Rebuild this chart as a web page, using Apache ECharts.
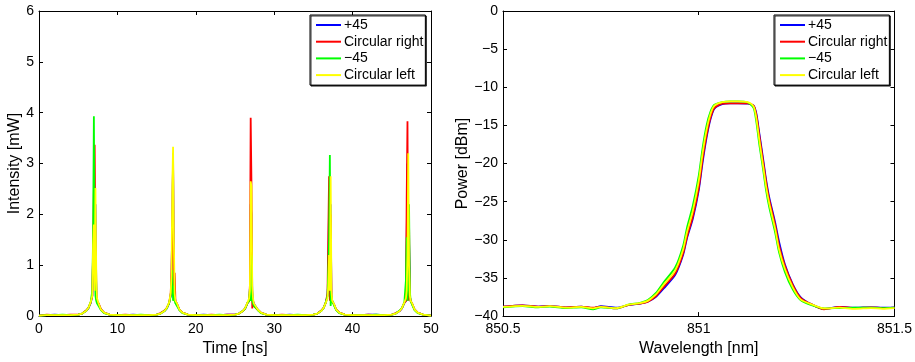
<!DOCTYPE html>
<html>
<head>
<meta charset="utf-8">
<script src="https://cdn.jsdelivr.net/npm/echarts@6/dist/echarts.min.js"></script>
<style>
html,body{margin:0;padding:0;background:#fff;}
#chart{width:915px;height:362px;}
</style>
</head>
<body>
<div id="chart"></div>
<script>
// ---------- Left panel: intensity vs time ----------
const seriesNames = ['+45', 'Circular right', '\u221245', 'Circular left'];
const seriesColors = ['#0000ff', '#ff0000', '#00ff00', '#ffff00'];

const timeNs = [
  0,1,2,3,4,5,5.5,6,6.3,6.6,6.8,6.9,7.0,7.1,7.2,7.3,7.4,7.6,7.9,8.3,9,
  10,11,12,13,14,15,15.5,16,16.3,16.6,16.8,16.9,17.0,17.1,17.2,17.3,17.4,17.6,17.9,18.3,19,
  20,21,22,23,24,25,25.5,26,26.3,26.6,26.8,26.9,27.0,27.1,27.2,27.3,27.4,27.6,27.9,28.3,29,
  30,31,32,33,34,35,35.5,36,36.3,36.6,36.8,36.9,37.0,37.1,37.2,37.3,37.4,37.6,37.9,38.3,39,
  40,41,42,43,44,45,45.5,46,46.3,46.6,46.8,46.9,47.0,47.1,47.2,47.3,47.4,47.6,47.9,48.3,49,
  50
];

const intensityPlus45 = [
  0.01,0.02,0.03,0.02,0.02,0.03,0.05,0.10,0.15,0.26, 0.40,1.20,1.70,1.00,2.20,0.70,0.30, 0.24,0.13,0.07,0.03,
  0.02,0.02,0.03,0.02,0.02,0.03,0.05,0.10,0.15,0.25, 0.40,0.60,2.00,3.00,1.00,0.40,0.30, 0.24,0.13,0.07,0.03,
  0.02,0.03,0.02,0.02,0.03,0.03,0.05,0.10,0.15,0.26, 0.30,0.45,2.20,2.00,0.50,0.30,0.25, 0.22,0.13,0.07,0.03,
  0.02,0.02,0.03,0.02,0.02,0.03,0.05,0.10,0.16,0.27, 0.40,0.70,2.30,0.40,2.20,0.40,0.30, 0.24,0.13,0.07,0.03,
  0.02,0.02,0.03,0.03,0.02,0.03,0.05,0.10,0.15,0.26, 0.30,1.50,3.00,0.40,1.50,0.40,0.30, 0.24,0.13,0.07,0.03,
  0.01
];
const intensityCircRight = [
  0.01,0.03,0.02,0.02,0.03,0.03,0.05,0.11,0.16,0.27, 0.40,1.30,2.50,3.37,1.20,0.40,0.30, 0.25,0.14,0.07,0.03,
  0.02,0.03,0.02,0.02,0.02,0.03,0.06,0.11,0.16,0.26, 0.45,0.90,1.60,3.20,0.50,0.85,0.30, 0.24,0.13,0.07,0.03,
  0.02,0.02,0.03,0.02,0.03,0.03,0.05,0.10,0.15,0.26, 0.30,0.60,3.90,2.60,0.15,0.30,0.20, 0.20,0.12,0.07,0.03,
  0.02,0.03,0.02,0.02,0.02,0.03,0.05,0.11,0.16,0.28, 0.45,1.55,2.75,0.30,2.00,0.40,0.30, 0.24,0.13,0.07,0.03,
  0.02,0.02,0.03,0.02,0.02,0.03,0.06,0.10,0.16,0.26, 0.30,2.30,3.83,0.30,1.85,0.40,0.30, 0.24,0.13,0.07,0.03,
  0.01
];
const intensityMinus45 = [
  0.01,0.02,0.02,0.03,0.02,0.03,0.05,0.10,0.16,0.28, 0.50,1.60,3.93,1.10,0.40,0.30,0.25, 0.22,0.12,0.06,0.03,
  0.02,0.02,0.02,0.03,0.02,0.03,0.05,0.10,0.15,0.26, 0.40,0.40,0.90,0.30,0.60,0.30,0.25, 0.22,0.12,0.06,0.03,
  0.02,0.02,0.02,0.03,0.02,0.03,0.05,0.10,0.15,0.26, 0.30,0.55,0.30,1.20,0.30,0.25,0.20, 0.20,0.12,0.06,0.03,
  0.02,0.02,0.02,0.03,0.02,0.03,0.05,0.10,0.16,0.28, 0.40,0.90,1.50,3.17,0.20,0.40,0.30, 0.22,0.12,0.06,0.03,
  0.02,0.02,0.02,0.03,0.02,0.03,0.05,0.11,0.16,0.27, 0.70,1.55,0.30,0.60,2.20,0.50,0.30, 0.22,0.12,0.06,0.03,
  0.01
];
const intensityCircLeft = [
  0.01,0.02,0.02,0.02,0.02,0.03,0.05,0.10,0.16,0.28, 0.40,1.40,1.80,0.50,2.52,0.90,0.35, 0.25,0.13,0.07,0.03,
  0.02,0.02,0.02,0.02,0.02,0.03,0.05,0.10,0.16,0.27, 0.45,0.80,2.50,3.33,1.50,0.45,0.30, 0.25,0.13,0.07,0.03,
  0.02,0.02,0.02,0.02,0.02,0.03,0.05,0.10,0.16,0.27, 0.35,0.50,2.65,2.55,0.60,0.35,0.25, 0.23,0.13,0.07,0.03,
  0.02,0.02,0.02,0.02,0.02,0.03,0.05,0.10,0.16,0.27, 0.35,0.60,1.20,0.50,2.75,0.50,0.30, 0.25,0.13,0.07,0.03,
  0.02,0.02,0.02,0.02,0.02,0.03,0.05,0.10,0.16,0.27, 0.35,0.50,1.20,3.20,1.00,0.40,0.30, 0.25,0.13,0.07,0.03,
  0.01
];

// ---------- Right panel: power vs wavelength ----------
const wavelengthNm = [
  850.5,850.55,850.59,850.62,850.66,850.70,850.73,850.75,850.79,850.82,850.85,850.87,850.89,850.91,850.94,
  850.96,850.97,850.985,851.0,851.01,851.02,851.03,851.04,851.06,851.08,851.10,851.125,851.14,851.147,851.155,
  851.165,851.172,851.18,851.195,851.205,851.22,851.24,851.26,851.29,851.32,851.36,851.40,851.44,851.47,851.5
];
const powerPlus45 = [
  -38.75,-38.6,-38.75,-38.65,-38.85,-38.75,-38.95,-38.7,-38.9,-38.55,-38.35,-38.1,-37.5,-36.4,-34.6,
  -32.0,-29.8,-27.2,-23.5,-19.8,-16.6,-14.2,-12.8,-12.2,-12.1,-12.1,-12.15,-12.4,-13.4,-16.1,
  -19.6,-22.1,-24.4,-27.7,-30.2,-33.2,-35.8,-37.5,-38.5,-39.05,-38.8,-38.9,-38.85,-38.9,-38.85
];
const powerCircRight = [
  -38.75,-38.6,-38.75,-38.7,-38.85,-38.75,-38.9,-38.75,-39.0,-38.55,-38.35,-38.1,-37.4,-36.2,-34.4,
  -31.8,-29.6,-26.9,-23.2,-19.4,-16.3,-14.0,-12.7,-12.15,-12.1,-12.1,-12.1,-12.4,-13.6,-16.4,
  -19.9,-22.4,-24.7,-28.0,-30.7,-33.4,-35.9,-37.6,-38.5,-39.1,-38.8,-38.95,-38.85,-38.95,-38.9
];
const powerMinus45 = [
  -38.85,-38.7,-38.85,-38.75,-38.95,-38.85,-39.1,-38.85,-39.0,-38.5,-38.25,-37.9,-37.0,-35.6,-33.6,
  -30.8,-28.4,-25.5,-21.6,-17.9,-15.0,-13.2,-12.3,-11.95,-11.85,-11.85,-12.0,-12.7,-14.5,-17.6,
  -21.0,-23.5,-25.7,-29.0,-31.6,-34.2,-36.5,-37.9,-38.6,-39.0,-38.95,-38.9,-38.9,-38.95,-38.9
];
const powerCircLeft = [
  -38.8,-38.65,-38.8,-38.7,-38.9,-38.8,-39.0,-38.8,-38.95,-38.5,-38.3,-38.0,-37.2,-35.9,-34.0,
  -31.3,-29.0,-26.2,-22.3,-18.6,-15.6,-13.5,-12.4,-11.95,-11.85,-11.85,-11.95,-12.5,-14.0,-17.0,
  -20.5,-23.0,-25.2,-28.5,-31.2,-33.8,-36.2,-37.8,-38.5,-39.0,-38.9,-39.05,-38.95,-39.05,-38.95
];

// ---------- build ----------
const FONT = "'Liberation Sans', Arial, Helvetica, sans-serif";
const minusFmt = v => (v < 0 ? '\u2212' + (-v) : String(v));

function pairs(xs, ys) { return xs.map((x, i) => [x, ys[i]]); }

function xAx(grid, min, max, interval, pos, name) {
  const show = pos === 'bottom';
  return {
    gridIndex: grid, type: 'value', min, max, interval, position: pos,
    axisLine: { show: true, onZero: false, lineStyle: { color: '#000', width: 1 } },
    axisTick: { show: true, inside: true, length: 4, lineStyle: { color: '#000' } },
    axisLabel: { show: show, color: '#000', fontSize: 14, fontFamily: FONT, margin: 6, formatter: minusFmt },
    splitLine: { show: false },
    name: show ? name : '', nameLocation: 'middle', nameGap: 19,
    nameTextStyle: { color: '#000', fontSize: 16, fontFamily: FONT }
  };
}
function yAx(grid, min, max, interval, pos, name, gap) {
  const show = pos === 'left';
  return {
    gridIndex: grid, type: 'value', min, max, interval, position: pos,
    axisLine: { show: true, onZero: false, lineStyle: { color: '#000', width: 1 } },
    axisTick: { show: true, inside: true, length: 4, lineStyle: { color: '#000' } },
    axisLabel: { show: show, color: '#000', fontSize: 14, fontFamily: FONT, margin: 5, formatter: minusFmt },
    splitLine: { show: false },
    name: show ? name : '', nameLocation: 'middle', nameGap: gap,
    nameTextStyle: { color: '#000', fontSize: 16, fontFamily: FONT }
  };
}

const leftY = [intensityPlus45, intensityCircRight, intensityMinus45, intensityCircLeft];
const rightY = [powerPlus45, powerCircRight, powerMinus45, powerCircLeft];

const series = [];
seriesNames.forEach((n, i) => {
  series.push({
    type: 'line', name: n, xAxisIndex: 0, yAxisIndex: 0,
    data: pairs(timeNs, leftY[i]), symbol: 'none', showSymbol: false,
    lineStyle: { color: seriesColors[i], width: 1.8 }, itemStyle: { color: seriesColors[i] },
    animation: false
  });
});
seriesNames.forEach((n, i) => {
  series.push({
    type: 'line', name: n, xAxisIndex: 2, yAxisIndex: 2,
    data: pairs(wavelengthNm, rightY[i]), symbol: 'none', showSymbol: false,
    smooth: 0.25,
    lineStyle: { color: seriesColors[i], width: 1.8 }, itemStyle: { color: seriesColors[i] },
    animation: false
  });
});

function legendAt(left) {
  return {
    left: left, top: 15, orient: 'vertical', data: seriesNames, selectedMode: false,
    icon: 'rect',
    itemWidth: 25, itemHeight: 2, itemGap: 2.7,
    padding: [3, 2, 3, 6],
    backgroundColor: '#fff', borderColor: '#000', borderWidth: 1,
    shadowColor: 'rgba(0,0,0,0.8)', shadowOffsetX: 1, shadowOffsetY: 1, shadowBlur: 0,
    textStyle: { color: '#000', fontSize: 14, fontFamily: FONT, lineHeight: 14, padding: [0, 0, 0, -2] }
  };
}

const option = {
  backgroundColor: '#fff',
  animation: false,
  grid: [
    { left: 39, top: 11, width: 392, height: 308 },
    { left: 503, top: 11, width: 392, height: 308 }
  ],
  xAxis: [
    xAx(0, 0, 50, 10, 'bottom', 'Time [ns]'),
    xAx(0, 0, 50, 10, 'top', ''),
    xAx(1, 850.5, 851.5, 0.5, 'bottom', 'Wavelength [nm]'),
    xAx(1, 850.5, 851.5, 0.5, 'top', '')
  ],
  yAxis: [
    yAx(0, 0, 6, 1, 'left', 'Intensity [mW]', 16),
    yAx(0, 0, 6, 1, 'right', '', 10),
    yAx(1, -40, 0, 5, 'left', 'Power [dBm]', 32),
    yAx(1, -40, 0, 5, 'right', '', 10)
  ],
  legend: [legendAt(310), legendAt(774)],
  series: series
};

const chart = echarts.init(document.getElementById('chart'), null, { renderer: 'canvas' });
chart.setOption(option);
</script>
</body>
</html>
